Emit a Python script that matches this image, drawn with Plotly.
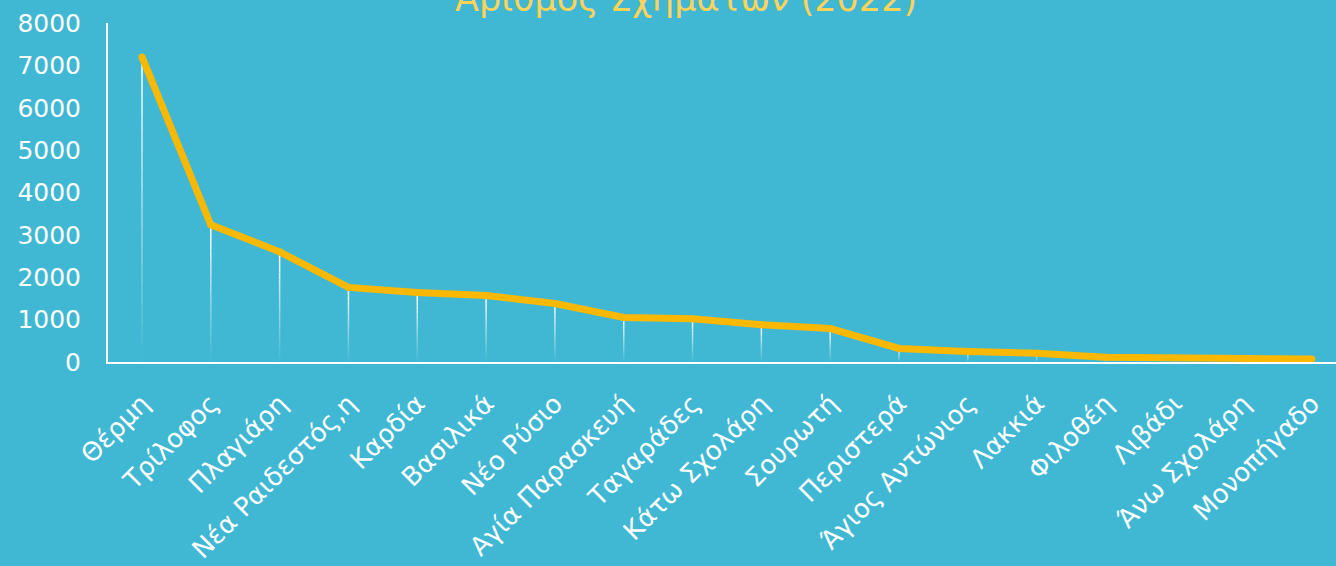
import plotly.graph_objects as go

# Villages / settlements and number of schemes in 2022
villages = [
    "Θέρμη", "Τρίλοφος", "Πλαγιάρη", "Νέα Ραιδεστός,η", "Καρδία", "Βασιλικά",
    "Νέο Ρύσιο", "Αγία Παρασκευή", "Ταγαράδες", "Κάτω Σχολάρη", "Σουρωτή",
    "Περιστερά", "Άγιος Αντώνιος", "Λακκιά", "Φιλοθέη", "Λιβάδι",
    "Άνω Σχολάρη", "Μονοπήγαδο",
]
schemes = [
    7200, 3240, 2600, 1760, 1640, 1570,
    1380, 1050, 1020, 880, 790,
    320, 250, 205, 115, 100,
    80, 70,
]
y_ticks = [0, 1000, 2000, 3000, 4000, 5000, 6000, 7000, 8000]
chart_title = "Αριθμός Σχημάτων (2022)"

BG = "#41B8D3"
LINE = "#FBB800"
TITLE = "#FFD35A"
FONT = "DejaVu Sans"

fig = go.Figure()

# Drop lines from each point down to the axis, fading out towards the bottom
n_seg = 16
shapes = []
for i, v in enumerate(schemes):
    for k in range(n_seg):
        y0 = v * (1 - k / n_seg)
        y1 = v * (1 - (k + 1) / n_seg)
        shapes.append(dict(
            type="line", xref="x", yref="y", x0=i, x1=i, y0=y0, y1=y1,
            line=dict(color="white", width=1.5),
            opacity=max(0.0, 1.0 - 0.97 * k / (n_seg - 1)),
            layer="below",
        ))

fig.add_trace(go.Scatter(
    x=villages, y=schemes, mode="lines+markers",
    line=dict(color=LINE, width=7),
    marker=dict(color=LINE, size=7),
    hoverinfo="x+y", showlegend=False,
))

fig.update_layout(
    width=1336, height=566,
    paper_bgcolor=BG, plot_bgcolor=BG,
    margin=dict(l=108, r=0, t=23, b=204),
    font=dict(family=FONT, color="white", size=22),
    shapes=shapes,
    annotations=[dict(
        text=chart_title, xref="paper", yref="paper",
        x=0.4707, y=1.005, xanchor="center", yanchor="bottom",
        showarrow=False, font=dict(family=FONT, size=35, color=TITLE),
    )],
    xaxis=dict(
        type="category", range=[-0.494, 17.35],
        showline=True, linecolor="white", linewidth=2,
        showgrid=False, zeroline=False, ticks="",
        tickangle=-45, tickfont=dict(size=26, color="white"),
        ticklabelstandoff=14,
    ),
    yaxis=dict(
        range=[0, 8000], tickvals=y_ticks,
        showline=True, linecolor="white", linewidth=2,
        showgrid=False, zeroline=False,
        ticks="outside", ticklen=20, tickcolor="rgba(0,0,0,0)",
        tickfont=dict(size=25, color="white"),
    ),
)

fig.write_html("out.html")
